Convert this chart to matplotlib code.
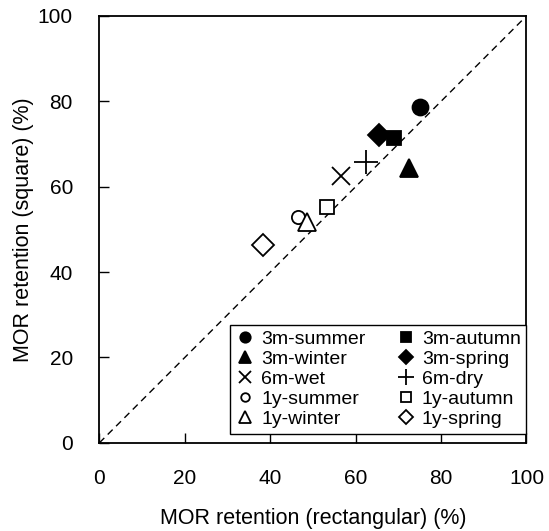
import numpy as np
import matplotlib
matplotlib.use("Agg")
import matplotlib.pyplot as plt

plt.rcParams['font.family'] = ['Liberation Sans', 'DejaVu Sans']

#Data
labels = ["3m-summer", "3m-autumn", "3m-winter", "3m-spring",
          "6m-wet", "6m-dry",
          "1y-summer", "1y-autumn", "1y-winter", "1y-spring"]
rect = [75.0, 68.9, 72.6, 65.4, 56.6, 62.4, 46.6, 53.4, 48.7, 38.2]
square = [78.6, 71.5, 64.4, 72.1, 62.4, 65.9, 52.8, 55.3, 51.8, 46.4]

#Marker styles
markers = ["o", "s", "^", "D", "x", "+", "o", "s", "^", "D"]
sizes = [11.5, 10, 13, 11, 13, 17, 9.5, 10, 13, 11]
filled = [True, True, True, True, False, False, False, False, False, False]

fig = plt.figure(figsize=(5.49, 5.31), dpi=100)
ax = fig.add_axes([0.181, 0.166, 0.778, 0.804])

#1:1 line
ax.plot([0, 100], [0, 100], ls=(0, (5, 3.5)), c="k", lw=1.0, zorder=1)

handles = []
for i in range(len(labels)):
    fc = "k" if filled[i] else "white"
    if markers[i] in ("x", "+"):
        fc = "k"
    h, = ax.plot(rect[i], square[i], ls="none", marker=markers[i], ms=sizes[i],
                 mfc=fc, mec="k", mew=1.3, label=labels[i], zorder=3)
    handles.append(h)

#Legend filled column by column
order = [0, 2, 4, 6, 8, 1, 3, 5, 7, 9]
leg = ax.legend([handles[i] for i in order], [labels[i] for i in order],
                ncol=2, loc="lower right", bbox_to_anchor=(1.0, 0.021),
                fontsize=14, frameon=True, fancybox=False, edgecolor="k",
                framealpha=1, markerscale=0.65, handlelength=1.0,
                handletextpad=0.3, labelspacing=0.12, columnspacing=1.6,
                borderpad=0.3, borderaxespad=0)
leg.get_frame().set_linewidth(1.0)

ax.set_xlim(0, 100)
ax.set_ylim(0, 100)
ax.set_xticks(np.arange(0, 101, 20))
ax.set_yticks(np.arange(0, 101, 20))
ax.tick_params(direction="in", length=7, width=1, labelsize=15, pad=19)
for s in ax.spines.values():
    s.set_linewidth(1.3)

ax.set_xlabel("MOR retention (rectangular) (%)", fontsize=15.5, labelpad=14)
ax.set_ylabel("MOR retention (square) (%)", fontsize=15.5, labelpad=3)

fig.savefig("out.png", dpi=100)
